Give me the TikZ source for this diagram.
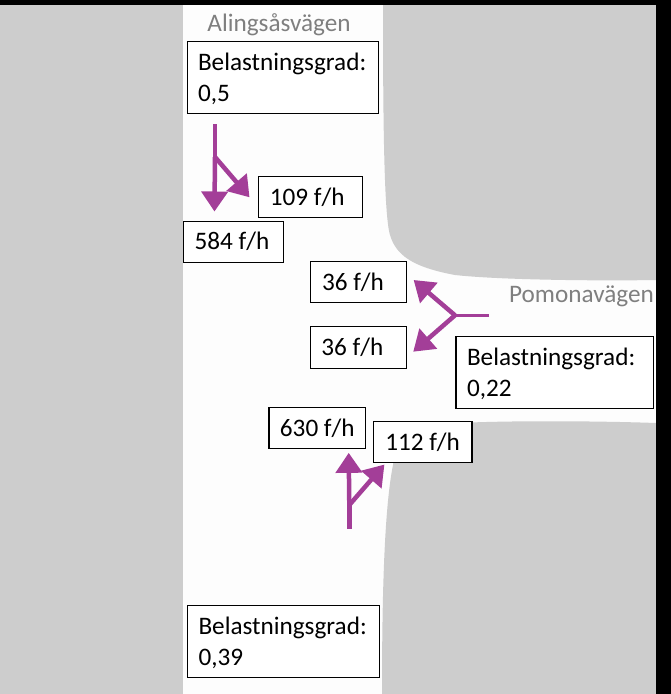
\documentclass[tikz,border=0pt]{standalone}
\usepackage{fontspec}
\setmainfont{Carlito}
\usetikzlibrary{arrows.meta,calc}
\definecolor{roadgrey}{HTML}{CDCDCD}
\definecolor{labelgrey}{HTML}{7F7F7F}
\definecolor{flow}{HTML}{A33E98}
\definecolor{paper}{HTML}{FDFDFD}
\newcommand{\firstline}{\rule{0pt}{21pt}}
\tikzset{
  x=1pt,y=-1pt,
  tag/.style={draw=black,line width=1.1pt,fill=white,inner sep=0pt,font=\fontsize{25.2}{29}\selectfont,align=center,anchor=center},
  loadbox/.style={draw=black,line width=1.1pt,fill=white,inner sep=0pt,font=\fontsize{25.2}{30.7}\selectfont,align=left,anchor=center},
  road/.style={text=labelgrey,font=\fontsize{25.2}{29}\selectfont,inner sep=0pt},
  flowline/.style={draw=flow,line width=4.5pt,-{Triangle[length=20pt,width=26pt]}},
  flowstem/.style={draw=flow,line width=4.5pt},
  grey/.style={fill=roadgrey,draw=none}
}
\begin{document}
\begin{tikzpicture}
\useasboundingbox (0,0) rectangle (671,694);
\fill[paper] (0,0) rectangle (671,694);
\fill[grey] (0,5) rectangle (183,694);
\fill[grey] (383,5) .. controls (383,120) and (384,215) .. (390,235)
  .. controls (396,255) and (412,267) .. (455,275)
  .. controls (500,280) and (600,281) .. (656,280) -- (656,5) -- cycle;
\fill[grey] (382,694) .. controls (382,600) and (384,510) .. (393,465)
  .. controls (396,445) and (400,428) .. (440,424)
  .. controls (500,420) and (600,421) .. (656,423) -- (656,694) -- cycle;
\fill[black] (0,0) rectangle (671,5);
\fill[black] (656,0) rectangle (671,694);

\node[road] (alings) at (279,25) {Alingsåsvägen};
\node[road,anchor=east] (pomona) at (654,296) {Pomonavägen};

\node[loadbox,minimum width=191pt,minimum height=71.5pt,text width=170pt] (b1) at (283,77.3) {\firstline Belastningsgrad:\\0,5};
\node[loadbox,minimum width=197.7pt,minimum height=72pt,text width=175.6pt] (b2) at (554.8,372.3) {\firstline Belastningsgrad:\\0,22};
\node[loadbox,minimum width=192.4pt,minimum height=72pt,text width=170pt] (b3) at (283.5,641.3) {\firstline Belastningsgrad:\\0,39};

\node[tag,minimum width=103.7pt,minimum height=40.3pt] (t109) at (310.2,196.9) {\hspace*{-6pt}109 f/h};
\node[tag,minimum width=99.8pt,minimum height=41.3pt] (t584) at (233.4,241.7) {\hspace*{-3pt}584 f/h};
\node[tag,minimum width=95.6pt,minimum height=41pt] (t36a) at (358.5,281.8) {\hspace*{-11pt}36 f/h};
\node[tag,minimum width=96pt,minimum height=41.6pt] (t36b) at (358.3,347.5) {\hspace*{-12pt}36 f/h};
\node[tag,minimum width=96.7pt,minimum height=41pt] (t630) at (317.3,428.2) {630 f/h};
\node[tag,minimum width=98.7pt,minimum height=41pt] (t112) at (422.6,441.8) {112 f/h};

% southbound
\coordinate (s0) at (215,124);
\coordinate (sj) at (215,157);
\coordinate (s1) at ($(t584.north west)+(31.5,-9)$);
\coordinate (s2) at ($(t109.west)+(-8.3,0.4)$);
\draw[flowstem] (s0) -- (sj);
\draw[flowline] (sj) -- (s1);
\draw[flowline] (sj) -- (s2);
% westbound
\coordinate (w0) at (489,315.3);
\coordinate (wj) at (455,315.3);
\coordinate (w1) at ($(t36a.east)+(6.8,-1.8)$);
\coordinate (w2) at ($(t36b.east)+(6.4,4.2)$);
\draw[flowstem,line width=3.2pt] (w0) -- (wj);
\draw[flowline] (wj) -- (w1);
\draw[flowline] (wj) -- (w2);
% northbound
\coordinate (n0) at (349.3,528.5);
\coordinate (nj) at (349.3,505);
\coordinate (n1) at ($(t630.south west)+(80.3,3.6)$);
\coordinate (n2) at ($(t112.south west)+(11.7,1.7)$);
\draw[flowstem] (n0) -- (nj);
\draw[flowline] (nj) -- (n1);
\draw[flowline] (nj) -- (n2);
\end{tikzpicture}
\end{document}
